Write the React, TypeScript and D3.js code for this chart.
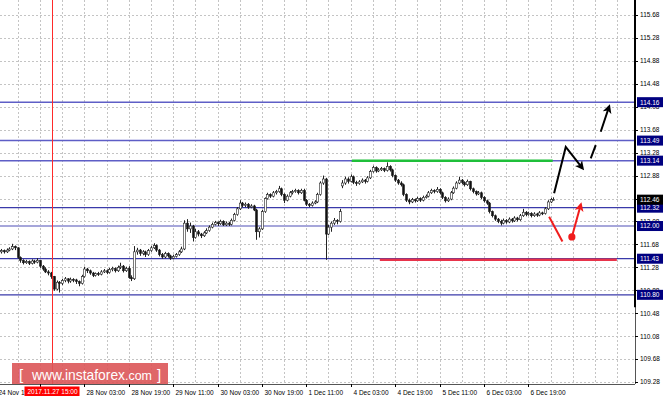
import React, { useEffect, useRef } from "react";
import * as d3 from "d3";

const W = 664;
const H = 400;
const PLOT_R = 635;
const PLOT_B = 384;

// USDJPY H1, bar index 0 = 24 Nov 19:00 (first two bars fall off the left edge)
const FIRST_BAR = 2;
// [open, high, low, close]
const bars: number[][] = [
  [111.55, 111.6, 111.52, 111.57], [111.57, 111.59, 111.52, 111.55], [111.55, 111.61, 111.53, 111.58],
  [111.58, 111.63, 111.56, 111.6], [111.6, 111.69, 111.58, 111.64], [111.64, 111.66, 111.58, 111.62],
  [111.62, 111.63, 111.43, 111.45], [111.45, 111.47, 111.36, 111.4], [111.4, 111.42, 111.33, 111.36],
  [111.36, 111.41, 111.34, 111.38], [111.38, 111.4, 111.32, 111.35], [111.35, 111.42, 111.33, 111.39],
  [111.39, 111.41, 111.34, 111.37], [111.37, 111.44, 111.35, 111.4], [111.4, 111.41, 111.27, 111.3],
  [111.3, 111.32, 111.22, 111.25], [111.25, 111.28, 111.18, 111.2], [111.2, 111.23, 111.14, 111.18],
  [111.18, 111.2, 111.08, 111.12], [111.12, 111.13, 110.87, 110.9], [110.9, 111.05, 110.88, 111.02],
  [111.02, 111.04, 110.84, 111.0], [111.0, 111.08, 110.97, 111.05], [111.05, 111.11, 111.02, 111.08],
  [111.08, 111.09, 111.0, 111.04], [111.04, 111.1, 111.01, 111.07], [111.07, 111.09, 111.02, 111.06],
  [111.06, 111.08, 110.99, 111.03], [111.03, 111.05, 110.95, 111.0], [111.0, 111.15, 110.98, 111.12],
  [111.12, 111.29, 111.1, 111.25], [111.25, 111.27, 111.18, 111.22], [111.22, 111.24, 111.15, 111.18],
  [111.18, 111.2, 111.11, 111.14], [111.14, 111.19, 111.12, 111.17], [111.17, 111.2, 111.13, 111.16],
  [111.16, 111.23, 111.14, 111.2], [111.2, 111.25, 111.18, 111.22], [111.22, 111.24, 111.16, 111.19],
  [111.19, 111.27, 111.17, 111.24], [111.24, 111.29, 111.21, 111.26], [111.26, 111.28, 111.19, 111.22],
  [111.22, 111.31, 111.2, 111.28], [111.28, 111.36, 111.25, 111.3], [111.3, 111.32, 111.19, 111.22],
  [111.22, 111.29, 111.2, 111.26], [111.26, 111.3, 111.08, 111.1], [111.1, 111.14, 111.04, 111.08],
  [111.08, 111.65, 111.06, 111.55], [111.55, 111.62, 111.5, 111.58], [111.58, 111.6, 111.48, 111.52],
  [111.52, 111.58, 111.49, 111.55], [111.55, 111.57, 111.46, 111.5], [111.5, 111.6, 111.48, 111.57],
  [111.57, 111.65, 111.55, 111.62], [111.62, 111.7, 111.6, 111.66], [111.66, 111.68, 111.55, 111.58],
  [111.58, 111.6, 111.47, 111.5], [111.5, 111.53, 111.43, 111.46], [111.46, 111.55, 111.44, 111.52],
  [111.52, 111.54, 111.45, 111.48], [111.48, 111.5, 111.41, 111.44], [111.44, 111.5, 111.42, 111.47],
  [111.47, 111.53, 111.45, 111.5], [111.5, 111.58, 111.48, 111.55], [111.55, 111.64, 111.53, 111.6],
  [111.6, 112.1, 111.58, 112.05], [112.05, 112.12, 111.9, 111.95], [111.95, 112.06, 111.88, 112.0],
  [112.0, 112.02, 111.73, 111.8], [111.8, 111.95, 111.78, 111.9], [111.9, 111.93, 111.82, 111.86],
  [111.86, 111.88, 111.79, 111.83], [111.83, 111.91, 111.81, 111.88], [111.88, 111.96, 111.86, 111.92],
  [111.92, 112.01, 111.9, 111.98], [111.98, 112.06, 111.96, 112.03], [112.03, 112.09, 112.01, 112.06],
  [112.06, 112.08, 112.0, 112.04], [112.04, 112.11, 112.02, 112.08], [112.08, 112.1, 112.0, 112.02],
  [112.02, 112.08, 112.0, 112.05], [112.05, 112.07, 112.0, 112.03], [112.03, 112.13, 112.01, 112.1],
  [112.1, 112.23, 112.08, 112.2], [112.2, 112.33, 112.18, 112.3], [112.3, 112.45, 112.28, 112.4],
  [112.4, 112.42, 112.33, 112.36], [112.36, 112.41, 112.33, 112.38], [112.38, 112.4, 112.3, 112.33],
  [112.33, 112.38, 112.31, 112.35], [112.35, 112.37, 112.26, 112.28], [112.28, 112.3, 111.76, 111.9],
  [111.9, 111.98, 111.8, 111.95], [111.95, 112.28, 111.93, 112.25], [112.25, 112.5, 112.23, 112.48],
  [112.48, 112.58, 112.46, 112.55], [112.55, 112.57, 112.49, 112.52], [112.52, 112.61, 112.5, 112.58],
  [112.58, 112.63, 112.55, 112.6], [112.6, 112.7, 112.58, 112.65], [112.65, 112.67, 112.52, 112.55],
  [112.55, 112.57, 112.4, 112.45], [112.45, 112.55, 112.43, 112.52], [112.52, 112.61, 112.5, 112.58],
  [112.58, 112.63, 112.55, 112.6], [112.6, 112.65, 112.58, 112.62], [112.62, 112.64, 112.55, 112.58],
  [112.58, 112.65, 112.56, 112.62], [112.62, 112.65, 112.43, 112.45], [112.45, 112.47, 112.35, 112.38],
  [112.38, 112.4, 112.33, 112.36], [112.36, 112.43, 112.34, 112.4], [112.4, 112.45, 112.38, 112.42],
  [112.42, 112.58, 112.4, 112.55], [112.55, 112.78, 112.53, 112.75], [112.75, 112.88, 112.72, 112.82],
  [112.82, 112.84, 111.41, 111.86], [111.86, 112.02, 111.84, 111.98], [111.98, 112.08, 111.9, 112.05],
  [112.05, 112.14, 112.02, 112.1], [112.1, 112.12, 112.03, 112.08], [112.08, 112.3, 112.06, 112.25],
  [112.7, 112.8, 112.66, 112.75], [112.75, 112.86, 112.72, 112.82], [112.82, 112.85, 112.74, 112.78],
  [112.78, 112.9, 112.76, 112.86], [112.86, 112.88, 112.73, 112.76], [112.76, 112.79, 112.7, 112.74],
  [112.74, 112.8, 112.72, 112.77], [112.77, 112.83, 112.75, 112.8], [112.8, 112.82, 112.74, 112.78],
  [112.78, 112.87, 112.76, 112.84], [112.84, 112.98, 112.82, 112.95], [112.95, 113.05, 112.93, 113.02],
  [113.02, 113.04, 112.93, 112.96], [112.96, 113.01, 112.94, 112.98], [112.98, 113.03, 112.96, 113.0],
  [113.0, 113.02, 112.94, 112.97], [112.97, 113.11, 112.95, 113.04], [113.04, 113.06, 112.95, 112.98],
  [112.98, 113.0, 112.85, 112.88], [112.88, 112.9, 112.77, 112.8], [112.8, 112.82, 112.72, 112.75],
  [112.75, 112.78, 112.69, 112.72], [112.72, 112.74, 112.52, 112.55], [112.55, 112.57, 112.42, 112.45],
  [112.45, 112.48, 112.38, 112.42], [112.42, 112.49, 112.4, 112.46], [112.46, 112.48, 112.41, 112.44],
  [112.44, 112.51, 112.42, 112.48], [112.48, 112.5, 112.42, 112.45], [112.45, 112.53, 112.43, 112.5],
  [112.5, 112.55, 112.48, 112.52], [112.52, 112.61, 112.5, 112.58], [112.58, 112.65, 112.56, 112.62],
  [112.62, 112.64, 112.57, 112.6], [112.6, 112.68, 112.58, 112.64], [112.64, 112.66, 112.55, 112.58],
  [112.58, 112.6, 112.47, 112.5], [112.5, 112.52, 112.41, 112.44], [112.44, 112.5, 112.42, 112.47],
  [112.47, 112.61, 112.45, 112.58], [112.58, 112.69, 112.56, 112.66], [112.66, 112.78, 112.64, 112.75],
  [112.75, 112.86, 112.73, 112.8], [112.8, 112.82, 112.73, 112.76], [112.76, 112.78, 112.69, 112.72],
  [112.72, 112.81, 112.7, 112.78], [112.78, 112.79, 112.62, 112.65], [112.65, 112.67, 112.57, 112.6],
  [112.6, 112.62, 112.53, 112.56], [112.56, 112.61, 112.54, 112.58], [112.58, 112.6, 112.47, 112.5],
  [112.5, 112.52, 112.41, 112.44], [112.44, 112.46, 112.37, 112.4], [112.4, 112.42, 112.22, 112.25],
  [112.25, 112.27, 112.15, 112.18], [112.18, 112.2, 112.09, 112.12], [112.12, 112.14, 112.05, 112.08],
  [112.08, 112.11, 112.01, 112.05], [112.05, 112.13, 112.03, 112.1], [112.1, 112.12, 112.04, 112.07],
  [112.07, 112.15, 112.05, 112.12], [112.12, 112.14, 112.06, 112.09], [112.09, 112.17, 112.07, 112.14],
  [112.14, 112.16, 112.08, 112.11], [112.11, 112.21, 112.09, 112.18], [112.18, 112.3, 112.16, 112.24],
  [112.24, 112.26, 112.17, 112.2], [112.2, 112.25, 112.18, 112.22], [112.22, 112.24, 112.15, 112.18],
  [112.18, 112.24, 112.16, 112.21], [112.21, 112.23, 112.16, 112.19], [112.19, 112.26, 112.17, 112.23],
  [112.23, 112.25, 112.19, 112.22], [112.22, 112.33, 112.2, 112.3], [112.3, 112.45, 112.28, 112.42],
  [112.42, 112.49, 112.4, 112.46], [112.46, 112.5, 112.44, 112.46],
];

const tickBars = [0, 16, 32, 48, 64, 80, 96, 112, 128, 144, 160, 176, 192];
const tickLabels = [
  "24 Nov 19:00", "27 Nov 11:00", "28 Nov 03:00", "28 Nov 19:00", "29 Nov 11:00",
  "30 Nov 03:00", "30 Nov 19:00", "1 Dec 11:00", "4 Dec 03:00", "4 Dec 19:00",
  "5 Dec 11:00", "6 Dec 03:00", "6 Dec 19:00",
];
const priceTicks = [
  109.28, 109.68, 110.08, 110.48, 110.88, 111.28, 111.68, 112.08, 112.48,
  112.88, 113.28, 113.68, 114.08, 114.48, 114.88, 115.28, 115.68,
];
const upperLevels = [114.16, 113.49, 113.14];
const lowerLevels = [112.32, 111.43, 110.8];
const pivotLevel = 112.0;
const bidPrice = 112.46;
const markerBar = 20;
const markerLabel = "2017.11.27 15:00";

// annotations, [bar, price]
const greenSpan = [128.4, 200.8];
const greenPrice = 113.14;
const redSpan = [138.5, 223.9];
const redPrice = 111.42;
const bullPath = [[201.3, 112.57], [205.5, 113.38], [211.5, 113.01]];
const bullDash = [[214.5, 113.18], [216.3, 113.41]];
const bullArrow = [[218.1, 113.645], [221.1, 114.08]];
const bearLine = [[199.5, 112.16], [204.3, 111.73]];
const bearArrow = [[207.7, 111.81], [210.9, 112.37]];

const FONT = "'Liberation Sans', Arial, sans-serif";

export default function App() {
  const svgRef = useRef<SVGSVGElement>(null);

  useEffect(() => {
    if (!svgRef.current) return;
    const svg = d3.select(svgRef.current);
    svg.selectAll("*").remove();

    const x = d3.scaleLinear().domain([0, 230]).range([-4.5, -4.5 + 230 * 2.775]);
    const y = d3.scaleLinear().domain([109.28, 115.68]).range([382, 15]);
    const cx = (i: number) => Math.round(x(i)) + 0.5;
    const mx = cx(markerBar);
    const levels = [...upperLevels, ...lowerLevels, pivotLevel];

    const defs = svg.append("defs");
    [["ahBlack", "#000"], ["ahRed", "#f01c1c"]].forEach(([id, c]) => {
      defs
        .append("marker")
        .attr("id", id)
        .attr("viewBox", "0 0 10 10")
        .attr("refX", 7)
        .attr("refY", 5)
        .attr("markerWidth", 4.5)
        .attr("markerHeight", 4.5)
        .attr("orient", "auto")
        .append("path")
        .attr("d", "M0,0 L10,5 L0,10 L2.5,5 z")
        .attr("fill", c);
    });

    svg.append("rect").attr("width", W).attr("height", H).attr("fill", "#fff");

    // grid
    const grid = svg.append("g").attr("stroke", "#c4c4c4").attr("stroke-dasharray", "2,2").attr("stroke-width", 1);
    grid
      .selectAll("line.v")
      .data(d3.range(0, 232, 8))
      .join("line")
      .attr("class", "v")
      .attr("x1", (d) => cx(d))
      .attr("x2", (d) => cx(d))
      .attr("y1", 0)
      .attr("y2", PLOT_B);
    grid
      .selectAll("line.h")
      .data(priceTicks)
      .join("line")
      .attr("class", "h")
      .attr("x1", 0)
      .attr("x2", PLOT_R)
      .attr("y1", (d) => Math.round(y(d)) + 0.5)
      .attr("y2", (d) => Math.round(y(d)) + 0.5);

    // horizontal levels
    const drawLevels = (vals: number[], color: string, w: number) =>
      svg
        .append("g")
        .selectAll("line")
        .data(vals)
        .join("line")
        .attr("x1", 0)
        .attr("x2", PLOT_R)
        .attr("y1", (d) => y(d))
        .attr("y2", (d) => y(d))
        .attr("stroke", color)
        .attr("stroke-width", w);
    drawLevels(upperLevels, "#5e5ec6", 1.5);
    drawLevels(lowerLevels, "#3a3aaa", 1.3);
    drawLevels([pivotLevel], "#a6a6da", 2);

    // candles
    const candles = svg.append("g");
    candles
      .selectAll("line")
      .data(bars)
      .join("line")
      .attr("x1", (_d, k) => cx(FIRST_BAR + k))
      .attr("x2", (_d, k) => cx(FIRST_BAR + k))
      .attr("y1", (d) => y(d[1]))
      .attr("y2", (d) => y(d[2]))
      .attr("stroke", "#222")
      .attr("stroke-width", 1);
    candles
      .selectAll("rect")
      .data(bars)
      .join("rect")
      .attr("x", (_d, k) => cx(FIRST_BAR + k) - 1)
      .attr("width", 2)
      .attr("y", (d) => y(Math.max(d[0], d[3])))
      .attr("height", (d) => Math.max(1, Math.abs(y(d[0]) - y(d[3]))))
      .attr("fill", (d) => (d[3] >= d[0] ? "#fff" : "#111"))
      .attr("stroke", "#222")
      .attr("stroke-width", 0.6);

    // marker line
    svg
      .append("line")
      .attr("x1", mx + 1)
      .attr("x2", mx + 1)
      .attr("y1", 0)
      .attr("y2", PLOT_B)
      .attr("stroke", "#ff2a2a")
      .attr("stroke-width", 1);

    // drawn levels
    svg
      .append("line")
      .attr("x1", x(greenSpan[0]))
      .attr("x2", x(greenSpan[1]))
      .attr("y1", y(greenPrice))
      .attr("y2", y(greenPrice))
      .attr("stroke", "#1fbf3a")
      .attr("stroke-width", 2.5);
    svg
      .append("line")
      .attr("x1", x(redSpan[0]))
      .attr("x2", x(redSpan[1]))
      .attr("y1", y(redPrice) + 0.5)
      .attr("y2", y(redPrice) + 0.5)
      .attr("stroke", "#e8334a")
      .attr("stroke-width", 2.5);

    const line = d3
      .line<number[]>()
      .x((d) => x(d[0]))
      .y((d) => y(d[1]));

    svg.append("path").attr("d", line(bullPath)).attr("fill", "none").attr("stroke", "#000").attr("stroke-width", 2).attr("marker-end", "url(#ahBlack)");
    svg.append("path").attr("d", line(bullDash)).attr("fill", "none").attr("stroke", "#000").attr("stroke-width", 2);
    svg.append("path").attr("d", line(bullArrow)).attr("fill", "none").attr("stroke", "#000").attr("stroke-width", 2).attr("marker-end", "url(#ahBlack)");
    svg.append("path").attr("d", line(bearLine)).attr("fill", "none").attr("stroke", "#f01c1c").attr("stroke-width", 2);
    svg.append("path").attr("d", line(bearArrow)).attr("fill", "none").attr("stroke", "#f01c1c").attr("stroke-width", 2).attr("marker-end", "url(#ahRed)");
    svg.append("circle").attr("cx", x(bearArrow[0][0])).attr("cy", y(bearArrow[0][1])).attr("r", 3.6).attr("fill", "#f01c1c");

    // right axis
    svg.append("rect").attr("x", PLOT_R).attr("y", PLOT_B).attr("width", W - PLOT_R).attr("height", H - PLOT_B).attr("fill", "#fff");
    svg.append("rect").attr("x", PLOT_R + 0.5).attr("y", 0).attr("width", W).attr("height", H).attr("fill", "#fff");
    svg.append("line").attr("x1", PLOT_R + 0.5).attr("x2", PLOT_R + 0.5).attr("y1", 0).attr("y2", PLOT_B).attr("stroke", "#555").attr("stroke-width", 1);
    svg.append("line").attr("x1", PLOT_R).attr("x2", PLOT_R).attr("y1", 0).attr("y2", y(110.48) - 6).attr("stroke", "#000").attr("stroke-width", 2);

    // grid price labels; the one fully under the bid tag is not visible in the terminal
    const gridLabels = priceTicks.filter((p) => Math.abs(p - bidPrice) > 0.05);
    const rAxis = svg.append("g").style("font-family", FONT).style("font-size", "6.5px");
    rAxis
      .selectAll("line")
      .data(priceTicks)
      .join("line")
      .attr("x1", PLOT_R)
      .attr("x2", PLOT_R + 3)
      .attr("y1", (d) => Math.round(y(d)) + 0.5)
      .attr("y2", (d) => Math.round(y(d)) + 0.5)
      .attr("stroke", "#000");
    rAxis
      .selectAll("text")
      .data(gridLabels)
      .join("text")
      .attr("x", PLOT_R + 5)
      .attr("y", (d) => y(d) + 2.4)
      .attr("fill", "#000")
      .text((d) => d.toFixed(2));

    const tags = [...levels.map((v) => ({ v, c: "#000080" })), { v: bidPrice, c: "#000" }];
    const tagG = svg.append("g").style("font-family", FONT).style("font-size", "6.5px");
    tags.forEach((t) => {
      tagG.append("rect").attr("x", PLOT_R + 2).attr("y", y(t.v) - 5).attr("width", 26).attr("height", 10).attr("fill", t.c);
      tagG.append("text").attr("x", PLOT_R + 5).attr("y", y(t.v) + 2.4).attr("fill", "#fff").text(t.v.toFixed(2));
    });

    // bottom axis; labels hidden under the marker time tag are skipped
    svg.append("line").attr("x1", 0).attr("x2", PLOT_R).attr("y1", PLOT_B + 0.5).attr("y2", PLOT_B + 0.5).attr("stroke", "#555");
    const shown = tickBars.map((b, k) => ({ b, t: tickLabels[k] })).filter((d) => Math.abs(cx(d.b) - mx) > 14);
    const bAxis = svg.append("g").style("font-family", FONT).style("font-size", "6.5px");
    bAxis
      .selectAll("line")
      .data(tickBars)
      .join("line")
      .attr("x1", (d) => cx(d))
      .attr("x2", (d) => cx(d))
      .attr("y1", PLOT_B)
      .attr("y2", PLOT_B + 3)
      .attr("stroke", "#000");
    bAxis
      .selectAll("text")
      .data(shown)
      .join("text")
      .attr("x", (d) => cx(d.b) + 2)
      .attr("y", 394.5)
      .attr("fill", "#000")
      .text((d) => d.t);

    // marker time tag
    svg.append("rect").attr("x", mx - 27).attr("y", 386.5).attr("width", 55).attr("height", 9.5).attr("fill", "#ff0000");
    svg
      .append("text")
      .attr("x", mx + 1)
      .attr("y", 394)
      .attr("text-anchor", "middle")
      .attr("fill", "#fff")
      .style("font-family", FONT)
      .style("font-size", "6.5px")
      .text(markerLabel);

    // watermark
    const wm = svg.append("g").style("font-family", FONT).attr("fill", "#fff");
    wm.append("rect").attr("x", 12).attr("y", 363).attr("width", 156).attr("height", 21).attr("fill", "#dc5558").attr("fill-opacity", 0.9);
    wm.append("text").attr("x", 19).attr("y", 380).style("font-size", "15px").text("[");
    wm.append("text")
      .attr("x", 32)
      .attr("y", 380)
      .attr("textLength", 93)
      .attr("lengthAdjust", "spacingAndGlyphs")
      .style("font-size", "15px")
      .text("www.instaforex");
    wm.append("text")
      .attr("x", 125)
      .attr("y", 380)
      .attr("textLength", 27)
      .attr("lengthAdjust", "spacingAndGlyphs")
      .style("font-size", "12px")
      .text(".com");
    wm.append("text").attr("x", 157).attr("y", 380).style("font-size", "15px").text("]");
  }, []);

  return (
    <svg
      ref={svgRef}
      width={W}
      height={H}
      style={{ position: "absolute", left: 0, top: 0, display: "block" }}
    />
  );
}
